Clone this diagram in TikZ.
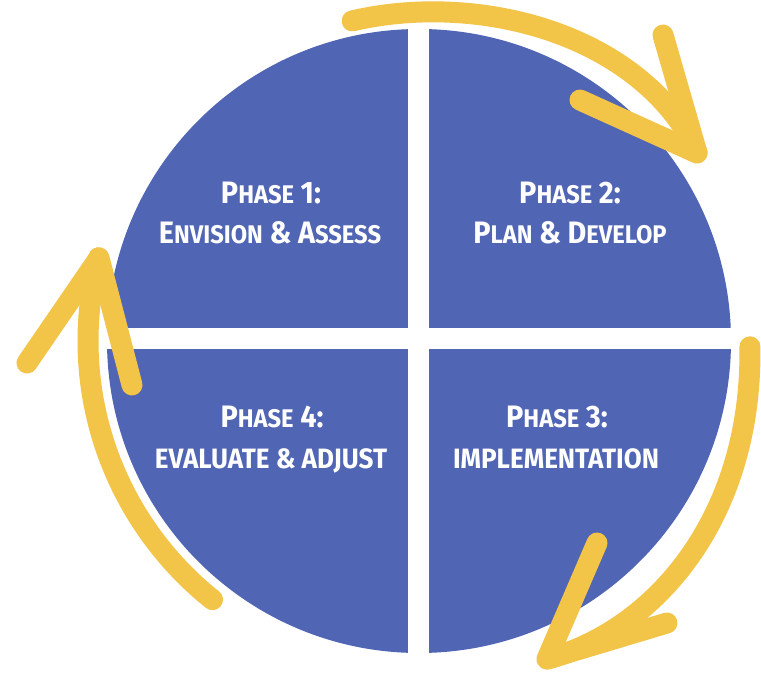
\documentclass[tikz,border=0pt]{standalone}
\usepackage{fontspec}
\newfontfamily\phasefont{Fira Sans}[UprightFont={* Bold}, FakeStretch=0.93]
\newcommand\capL[1]{{\fontsize{31}{31}\selectfont #1}}
\newcommand\capS[1]{{\fontsize{25.5}{25.5}\selectfont #1}}
\newcommand\capM[1]{{\fontsize{28}{28}\selectfont #1}}
\definecolor{phaseblue}{RGB}{80,101,180}
\definecolor{cycleyellow}{RGB}{242,196,72}
\tikzset{
  phasetext/.style={text=white, font={\phasefont\fontsize{30}{30}\selectfont}, inner sep=0pt, anchor=base},
  cycleline/.style={draw=cycleyellow, line width=21pt, line cap=round, line join=round}
}
\begin{document}
\begin{tikzpicture}[x=1pt, y=-1pt]
  % canvas
  \fill[white] (0,0) rectangle (761,677);
  \useasboundingbox (0,0) rectangle (761,677);

  % the disc, split into four quarters by white bars
  \coordinate (c) at (419,341);
  \fill[phaseblue] (c) circle[radius=312];
  \fill[white] (408,0) rectangle (429,677);
  \fill[white] (0,328) rectangle (761,349);

  % quarter labels
  \node[phasetext] (p1a) at (271,203) {\capL{P}\capS{HASE} \capL{1:}};
  \node[phasetext] (p1b) at (270,243) {\capL{E}\capS{NVISION} \capL{\&} \capL{A}\capS{SSESS}};
  \node[phasetext] (p2a) at (570,203) {\capL{P}\capS{HASE} \capL{2:}};
  \node[phasetext] (p2b) at (570,243) {\capL{P}\capS{LAN} \capL{\&} \capL{D}\capS{EVELOP}};
  \node[phasetext] (p3a) at (557,427) {\capL{P}\capS{HASE} \capL{3:}};
  \node[phasetext] (p3b) at (556,468) {\capM{IMPLEMENTATION}};
  \node[phasetext] (p4a) at (272,427) {\capL{P}\capS{HASE} \capL{4:}};
  \node[phasetext] (p4b) at (271,468) {\capM{EVALUATE \& ADJUST}};

  % top arc: phase 1 -> phase 2
  \draw[cycleline] plot[domain=0:1, samples=90, variable=\q]
    ({419+(327+9*\q+80*\q^3*(1-\q))*cos(101.8-67.7*\q)},
     {341-(327+9*\q+80*\q^3*(1-\q))*sin(101.8-67.7*\q)});
  \coordinate (tipA) at (697,153);
  \coordinate (armA1) at (663,35);
  \coordinate (armA2) at (580,100);
  \draw[cycleline] (armA1) -- (tipA) -- (armA2);

  % right arc: phase 2 -> phase 3
  \draw[cycleline] plot[domain=0:1, samples=90, variable=\q]
    ({419+(331+12*\q+60*\q^2*(1-\q))*cos(-1-67*\q)},
     {341-(331+12*\q+60*\q^2*(1-\q))*sin(-1-67*\q)});
  \coordinate (tipB) at (547,659);
  \coordinate (armB1) at (597,543);
  \coordinate (armB2) at (667,623);
  \draw[cycleline] (armB1) -- (tipB) -- (armB2);

  % left arc: phase 4 -> phase 1
  \draw[cycleline] plot[domain=0:1, samples=90, variable=\q]
    ({419+331*cos(231.4-66*\q)}, {341-331*sin(231.4-66*\q)});
  \coordinate (tipC) at (99,258);
  \coordinate (armC1) at (27,363);
  \coordinate (armC2) at (132,385);
  \draw[cycleline] (armC1) -- (tipC) -- (armC2);
\end{tikzpicture}
\end{document}
